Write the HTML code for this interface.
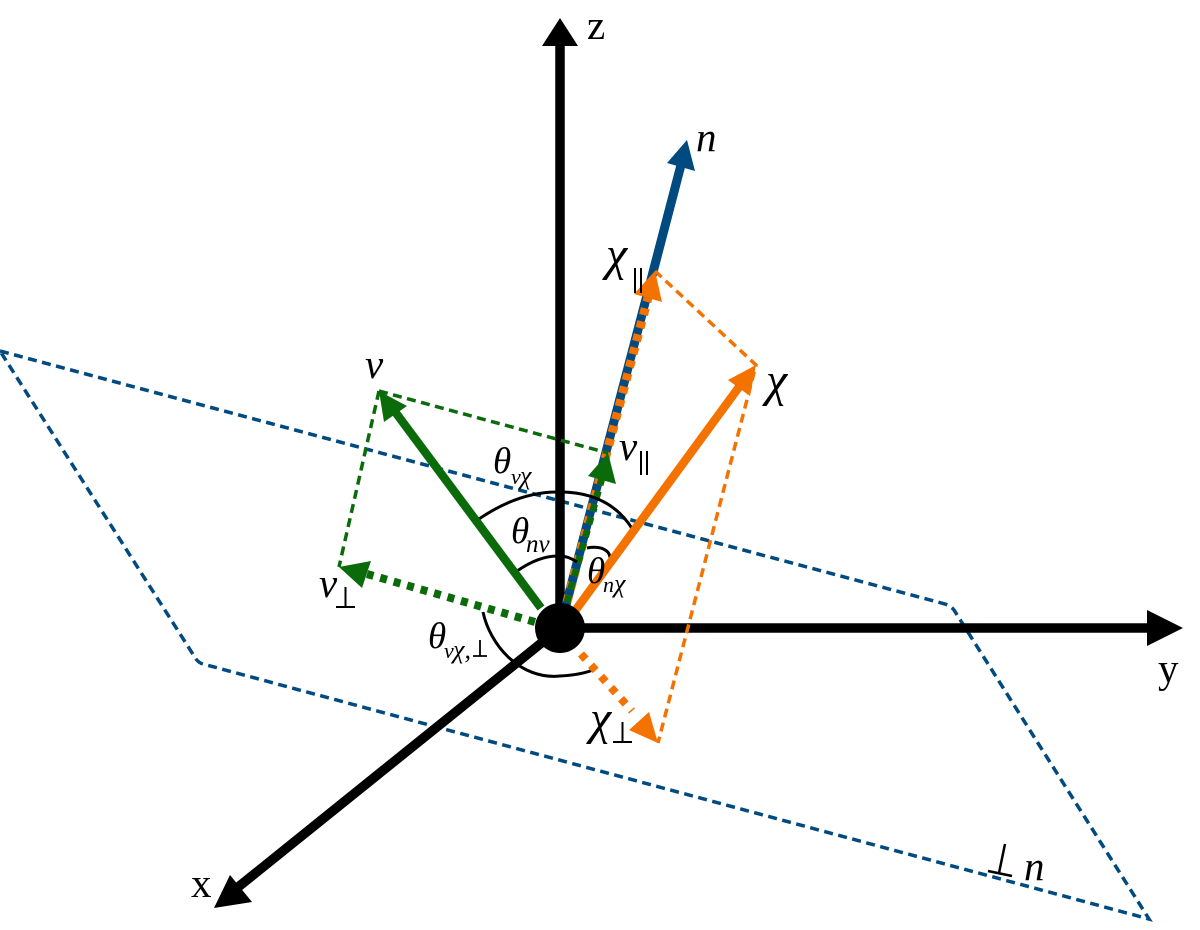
<!DOCTYPE html>
<html><head><meta charset="utf-8"><style>
html,body{margin:0;padding:0;background:#fff;width:1200px;height:930px;overflow:hidden}
svg{display:block}
text{font-family:"Liberation Serif",serif;fill:#000}
.i{font-style:italic}
</style></head><body>
<svg width="1200" height="930" viewBox="0 0 1200 930" xmlns="http://www.w3.org/2000/svg">
<!-- plane -->
<path d="M0 351L945 604Q951 606 954 610L1149 919L203 664Q199 663 196 659Z" fill="none" stroke="#004a80" stroke-width="3.500" stroke-dasharray="9 5.500"/>
<!-- black axes -->
<g stroke="#000" stroke-width="9.500" fill="none">
<line x1="560" y1="628" x2="560" y2="40"/>
<line x1="560" y1="628" x2="1150" y2="628"/>
<line x1="560" y1="628" x2="232" y2="892"/>
</g>
<polygon points="560,18 542,46 578,46" fill="#000"/>
<polygon points="1183,628 1147,610 1147,646" fill="#000"/>
<polygon points="214,908 230,875 252,902" fill="#000"/>
<!-- n -->
<line x1="560" y1="628" x2="681" y2="165" stroke="#004a80" stroke-width="9"/>
<polygon points="687,140 667,163 695,171" fill="#004a80"/>
<!-- orange parallel -->
<line x1="567" y1="602" x2="648" y2="298" stroke="#f47200" stroke-width="9" stroke-dasharray="7 6.500"/>
<polygon points="655,271 634,294 662,302" fill="#f47200"/>
<!-- green parallel -->
<line x1="567" y1="602" x2="602" y2="478" stroke="#0b6b0b" stroke-width="7" stroke-dasharray="7 6.500"/>
<polygon points="608,453 588,476 616,484" fill="#0b6b0b"/>
<!-- thin dashed -->
<g fill="none" stroke-width="3.500" stroke-dasharray="9 5.500">
<path d="M379 391L608 453M379 391L339 567" stroke="#0b6b0b"/>
<path d="M655 271L756 365L658 743" stroke="#f47200"/>
</g>
<!-- arcs -->
<g fill="none" stroke="#000" stroke-width="3">
<path d="M479 519Q520 491 560 492Q610 492 633 530"/>
<path d="M517 571Q540 555 560 556Q568 556 577 562"/>
<path d="M587 548C598 546 612 548 610 562"/>
<path d="M483 612C490 645 520 680 560 676Q580 675 593 670"/>
</g>
<!-- v -->
<line x1="541" y1="608" x2="393" y2="409" stroke="#0b6b0b" stroke-width="8.500"/>
<polygon points="379,391 407,406 384,422" fill="#0b6b0b"/>
<!-- chi -->
<line x1="572" y1="615" x2="739" y2="387" stroke="#f47200" stroke-width="8.500"/>
<polygon points="756,365 728,380 750,396" fill="#f47200"/>
<!-- v perp -->
<line x1="535" y1="622" x2="367" y2="574" stroke="#0b6b0b" stroke-width="8" stroke-dasharray="7 7"/>
<polygon points="339,567 371,561 362,588" fill="#0b6b0b"/>
<!-- chi perp -->
<line x1="581" y1="654" x2="632" y2="711" stroke="#f47200" stroke-width="8" stroke-dasharray="7 8"/>
<polygon points="658,743 649,712 629,730" fill="#f47200"/>
<circle cx="560" cy="628" r="25" fill="#000"/>
<!-- labels -->
<text x="587" y="39" font-size="41">z</text>
<text x="1158" y="682" font-size="41">y</text>
<text x="191" y="897" font-size="41">x</text>
<text x="696" y="151" font-size="41" class="i">n</text>
<text x="365" y="378" font-size="41" class="i">v</text>
<text x="766" y="396" font-size="48" class="i">χ</text>
<text x="619" y="460" font-size="41" class="i">v</text>
<path d="M641 451v24M647 451v24" stroke="#000" stroke-width="2" fill="none"/>
<text x="606" y="270" font-size="48" class="i">χ</text>
<path d="M635 268v25M641 268v25" stroke="#000" stroke-width="2" fill="none"/>
<text x="319" y="597" font-size="41" class="i">v</text>
<path d="M336 607h19M345.500 587v20" stroke="#000" stroke-width="2" fill="none"/>
<text x="590" y="734" font-size="48" class="i">χ</text>
<path d="M613 742h19M622.500 722v20" stroke="#000" stroke-width="2" fill="none"/>
<text x="493" y="473" font-size="37" class="i">θ</text>
<text x="511" y="484" font-size="22" class="i">v</text>
<text x="520" y="484" font-size="26" class="i">χ</text>
<text x="511" y="543" font-size="37" class="i">θ</text>
<text x="526" y="552" font-size="25" class="i">nv</text>
<text x="587" y="583" font-size="37" class="i">θ</text>
<text x="603" y="592" font-size="22" class="i">n</text>
<text x="614" y="592" font-size="26" class="i">χ</text>
<text x="428" y="648" font-size="37" class="i">θ</text>
<text x="444" y="658" font-size="22" class="i">v</text>
<text x="453" y="658" font-size="26" class="i">χ,</text>
<path d="M473 656h14M480 640v16" stroke="#000" stroke-width="1.800" fill="none"/>
<path d="M988 871l24 5M1005 844l-6 29" stroke="#000" stroke-width="2.500" fill="none"/>
<text x="1024" y="880" font-size="41" class="i">n</text>
</svg>
</body></html>
